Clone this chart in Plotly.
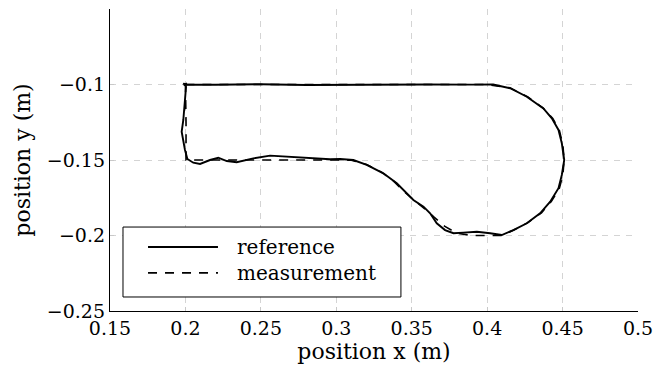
import plotly.graph_objects as go

# ---- data ----
ref_x = [0.1997, 0.1985, 0.2005, 0.1990, 0.2010, 0.2000, 0.22, 0.25, 0.28, 0.30, 0.33, 0.36, 0.39, 0.404,
         0.4153, 0.4263, 0.4373, 0.4429, 0.4473, 0.4495, 0.4511, 0.4495, 0.4473, 0.4418, 0.4351,
         0.4263, 0.4174, 0.4097, 0.4020, 0.3932, 0.3843, 0.3777, 0.3721, 0.3666, 0.3622, 0.3578,
         0.3511, 0.3468, 0.3401, 0.3312, 0.3202, 0.3113, 0.3025, 0.2959, 0.2848, 0.2672, 0.2561,
         0.2450, 0.2340, 0.2274, 0.2218, 0.2163, 0.2097, 0.2052, 0.2013, 0.1997, 0.1975, 0.1986,
         0.1997, 0.2004, 0.1997]
ref_y = [-0.0997, -0.0995, -0.1008, -0.1003, -0.0993, -0.1000, -0.1002, -0.0998, -0.1003, -0.1001,
         -0.0999, -0.1000, -0.1001, -0.1000,
         -0.1025, -0.1081, -0.1158, -0.1224, -0.1301, -0.1389, -0.1500, -0.1599, -0.1687, -0.1776,
         -0.1853, -0.1919, -0.1964, -0.1997, -0.1985, -0.1975, -0.1981, -0.1985, -0.1964, -0.1919,
         -0.1853, -0.1809, -0.1765, -0.1720, -0.1654, -0.1588, -0.1533, -0.1500, -0.1493, -0.1495,
         -0.1489, -0.1482, -0.1471, -0.1489, -0.1515, -0.1507, -0.1485, -0.1500, -0.1526, -0.1518,
         -0.1493, -0.1434, -0.1313, -0.1235, -0.1125, -0.1015, -0.0997]

meas_x = [0.2, 0.25, 0.3, 0.35, 0.4, 0.415, 0.427, 0.437, 0.4435, 0.4478, 0.4502, 0.451, 0.4502,
          0.4478, 0.4425, 0.436, 0.427, 0.418, 0.41, 0.40, 0.39, 0.38, 0.372, 0.365, 0.36, 0.352,
          0.345, 0.338, 0.33, 0.32, 0.31, 0.30, 0.25, 0.2004, 0.2004, 0.2]
meas_y = [-0.1, -0.1, -0.1, -0.1, -0.1, -0.1022, -0.1082, -0.1155, -0.1225, -0.13, -0.14, -0.15,
          -0.16, -0.169, -0.1775, -0.185, -0.1915, -0.1962, -0.2, -0.2, -0.2, -0.1985, -0.194,
          -0.188, -0.1835, -0.177, -0.171, -0.164, -0.158, -0.153, -0.1502, -0.15, -0.15, -0.15,
          -0.125, -0.1]

series_names = ["reference", "measurement"]
x_ticks = [0.15, 0.2, 0.25, 0.3, 0.35, 0.4, 0.45, 0.5]
x_tick_text = ["0.15", "0.2", "0.25", "0.3", "0.35", "0.4", "0.45", "0.5"]
y_ticks = [-0.25, -0.2, -0.15, -0.1]
y_tick_text = ["\u22120.25", "\u22120.2", "\u22120.15", "\u22120.1"]

FONT = "DejaVu Serif"

fig = go.Figure()
fig.add_trace(go.Scatter(x=ref_x, y=ref_y, mode="lines", name=series_names[0],
                         line=dict(color="black", width=1.9), showlegend=False))
fig.add_trace(go.Scatter(x=meas_x, y=meas_y, mode="lines", name=series_names[1],
                         line=dict(color="black", width=1.6, dash="9px,8px"), showlegend=False))

# legend drawn by hand to match the long line samples
lx0, lx1, ly0, ly1 = 0.0246, 0.551, 0.0464, 0.278
fig.add_shape(type="rect", xref="paper", yref="paper", x0=lx0, x1=lx1, y0=ly0, y1=ly1,
              line=dict(color="black", width=1), fillcolor="white", layer="above")
rows = [0.212, 0.126]
dashes = ["solid", "9px,8px"]
for name, yy, d in zip(series_names, rows, dashes):
    fig.add_shape(type="line", xref="paper", yref="paper", x0=0.072, x1=0.2045, y0=yy, y1=yy,
                  line=dict(color="black", width=1.8, dash=d), layer="above")
    fig.add_annotation(xref="paper", yref="paper", x=0.2367, y=yy, text=name, showarrow=False,
                       xanchor="left", yanchor="middle",
                       font=dict(family=FONT, size=20, color="black"))

# page body has an 8px default margin, so the figure is sized to fit the window
fig.update_layout(
    width=657, height=365,
    margin=dict(l=102, r=27, t=1, b=62),
    paper_bgcolor="white", plot_bgcolor="white",
    font=dict(family=FONT, size=19, color="black"),
    xaxis=dict(range=[0.15, 0.5], tickvals=x_ticks, ticktext=x_tick_text, automargin=False,
               showline=True, linecolor="black", linewidth=1.3, mirror=False,
               showgrid=True, gridcolor="#d4d4d4", gridwidth=1, griddash="6px,6px",
               ticks="inside", ticklen=4, tickcolor="#c8c8c8", zeroline=False,
               title=dict(text="position x (m)", font=dict(family=FONT, size=22), standoff=4)),
    yaxis=dict(range=[-0.25, -0.05], tickvals=y_ticks, ticktext=y_tick_text, automargin=False,
               showline=True, linecolor="black", linewidth=1.3, mirror=False,
               showgrid=True, gridcolor="#d4d4d4", gridwidth=1, griddash="6px,6px",
               ticks="inside", ticklen=4, tickcolor="#c8c8c8", zeroline=False,
               title=dict(text="position y (m)", font=dict(family=FONT, size=22), standoff=10)),
)

fig.write_html("out.html")
